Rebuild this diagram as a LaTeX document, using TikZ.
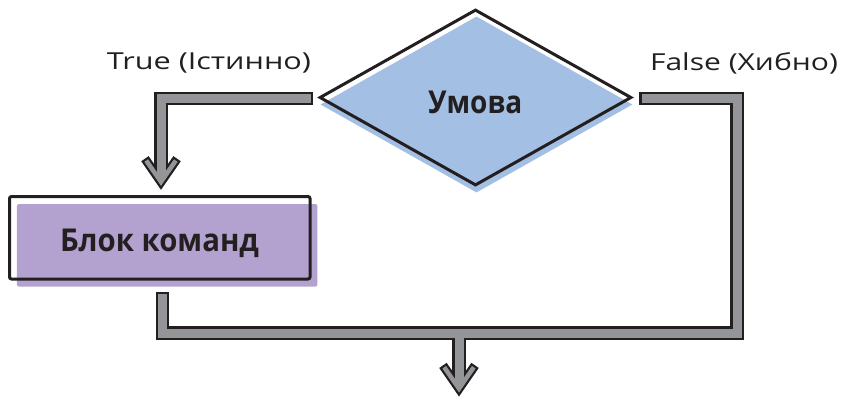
\documentclass[tikz,border=0pt]{standalone}
\usepackage{graphicx}
\usepackage{fontspec}
\setmainfont{Open Sans}
\usetikzlibrary{shapes.geometric}
\definecolor{ink}{HTML}{231F20}
\definecolor{bargray}{HTML}{939598}
\definecolor{condblue}{HTML}{A3BFE3}
\definecolor{blockpurple}{HTML}{B3A2CF}
\newcommand\fitw[2]{\resizebox{#1}{\height}{#2}}
\tikzset{
  barout/.style={draw=ink, line width=13.5pt, line cap=rect, line join=miter},
  barin/.style={draw=bargray, line width=9pt, line cap=rect, line join=miter},
  chevout/.style={draw=ink, line width=9pt, line cap=rect, line join=miter},
  chevin/.style={draw=bargray, line width=4.5pt, line cap=rect, line join=miter},
  lbl/.style={anchor=base, text=ink, font=\fontsize{23.4}{26}\selectfont, inner sep=0pt},
  boldlbl/.style={anchor=base, text=ink, font=\bfseries\fontsize{31.5}{34}\selectfont, inner sep=0pt},
  condshape/.style={diamond, minimum width=312pt, minimum height=176pt, inner sep=0pt, line join=miter},
  blockshape/.style={rectangle, minimum width=300.5pt, minimum height=82.5pt, inner sep=0pt, rounded corners=2pt},
}
\begin{document}
\begin{tikzpicture}[x=1pt,y=-1pt]
\useasboundingbox (0,0) rectangle (845,397);
% condition diamond
\node[condshape, fill=condblue] (condshadow) at (476.5,104.5) {};
\node[condshape, draw=ink, line width=3pt] (cond) at (475.5,97.5) {};
\node[boldlbl] (condtext) at (475.3,113.3) {\fitw{94pt}{Умова}};
% command block
\node[blockshape, fill=blockpurple] (blockshadow) at (167.2,245.3) {};
\node[blockshape, draw=ink, line width=3pt] (block) at (159.75,237.75) {};
\node[boldlbl] (blocktext) at (159.5,251.5) {\fitw{199pt}{Блок команд}};
% labels
\node[lbl] (truelbl) at (209,69.3) {\fitw{204pt}{True (Істинно)}};
\node[lbl] (falselbl) at (744,70.3) {\fitw{188pt}{False (Хибно)}};
% connector coordinates
\coordinate (a0) at (306,98.7);
\coordinate (a1) at (161,98.7);
\coordinate (a2) at (161,173);
\coordinate (a2g) at (161,174.5);
\coordinate (atip) at (161,181.9);
\coordinate (b0) at (646,98.5);
\coordinate (b1) at (737,98.5);
\coordinate (b2) at (737,333);
\coordinate (b3) at (162.5,333);
\coordinate (b4) at (162.5,298.5);
\coordinate (c0) at (459,333);
\coordinate (c1) at (459,379.8);
\coordinate (c1g) at (459,381.3);
\coordinate (ctip) at (459,388.6);
% black outlines
\draw[barout] (a0) -- (a1) -- (a2);
\draw[barout] (b0) -- (b1) -- (b2) -- (b3) -- (b4);
\draw[barout] (c0) -- (c1);
\draw[chevout] ([shift={(-13.5,-19.5)}]atip) -- (atip) -- ([shift={(13.5,-19.5)}]atip);
\draw[chevout] ([shift={(-13.5,-19.5)}]ctip) -- (ctip) -- ([shift={(13.5,-19.5)}]ctip);
% grey fills
\draw[barin] (a0) -- (a1) -- (a2g);
\draw[barin] (b0) -- (b1) -- (b2) -- (b3) -- (b4);
\draw[barin] (c0) -- (c1g);
\draw[chevin] ([shift={(-13.5,-19.5)}]atip) -- (atip) -- ([shift={(13.5,-19.5)}]atip);
\draw[chevin] ([shift={(-13.5,-19.5)}]ctip) -- (ctip) -- ([shift={(13.5,-19.5)}]ctip);
\end{tikzpicture}
\end{document}
